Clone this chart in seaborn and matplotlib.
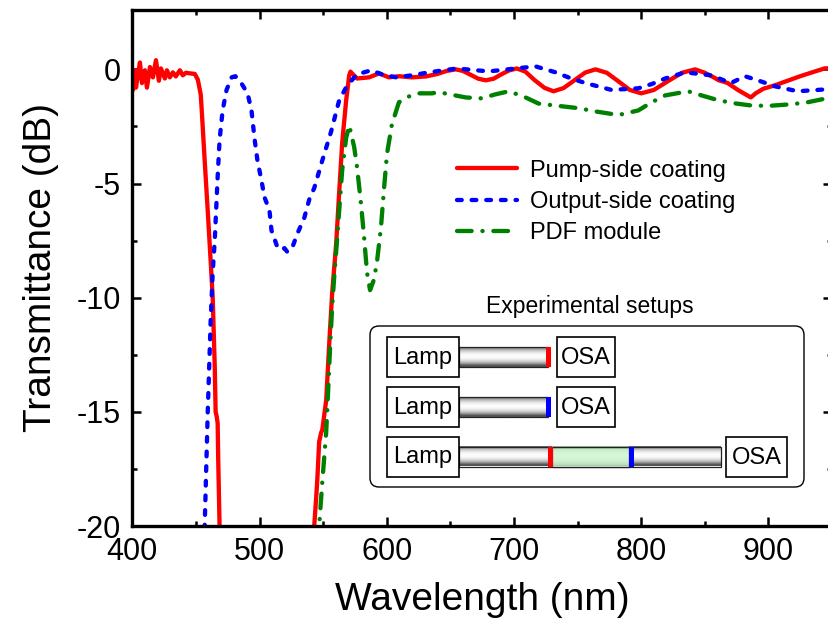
import numpy as np
import pandas as pd
import matplotlib
matplotlib.use("Agg")
import matplotlib.pyplot as plt
from matplotlib.patches import Rectangle, FancyBboxPatch
import seaborn as sns

# ---------------- data ----------------
pump_wl = [400.0, 400.5, 402.1, 402.9, 404.5, 406.0, 407.6, 409.9, 411.5, 413.9, 416.2, 418.6,
           420.9, 422.5, 425.6, 427.2, 429.5, 431.9, 434.2, 437.4, 439.7, 442.1, 446.0, 449.1,
           451.5, 453.8, 454.6, 456.9, 459.3, 461.6, 462.4, 463.2, 464.8, 465.5, 466.3, 467.1,
           467.5, 468.6, 469.5, 505.0, 542.0, 543.0, 544.6, 545.4, 546.9, 548.5, 549.3, 552.4,
           554.8, 557.1, 560.3, 562.6, 565.0, 568.1, 570.5, 571.5, 572.8, 576.7, 586.1, 593.9,
           601.8, 609.6, 619.8, 630.8, 640.0, 647.0, 654.3, 660.0, 666.0, 672.0, 677.8, 684.0,
           690.0, 696.0, 702.2, 709.0, 716.0, 724.0, 731.1, 739.0, 747.5, 756.0, 764.1, 773.0,
           782.0, 791.0, 800.1, 810.0, 821.0, 832.0, 842.4, 850.0, 857.0, 861.0, 864.3, 868.0,
           876.0, 886.2, 890.0, 896.0, 905.0, 915.0, 925.0, 935.0, 944.1, 948.0]
pump_db = [-0.7, -0.9, -0.05, -0.8, -0.2, 0.3, -0.6, -0.04, -0.8, 0.1, -0.35, 0.4,
           -0.5, 0.04, -0.4, -0.04, -0.35, -0.13, -0.31, -0.04, -0.26, -0.15, -0.18, -0.2,
           -0.45, -1.1, -1.8, -4.0, -6.2, -8.4, -9.2, -10.0, -13.0, -15.0, -15.2, -15.5,
           -17.0, -20.0, -23.0, -30.0, -23.0, -20.0, -18.7, -18.0, -16.3, -15.9, -15.8, -14.5,
           -12.0, -9.8, -7.6, -5.4, -3.2, -1.36, -0.26, -0.1, -0.18, -0.4, -0.35, -0.18,
           -0.35, -0.3, -0.35, -0.31, -0.2, -0.07, 0.0, -0.07, -0.24, -0.41, -0.48, -0.41,
           -0.22, -0.05, 0.04, -0.1, -0.46, -0.81, -0.96, -0.82, -0.48, -0.14, 0.0, -0.15,
           -0.52, -0.9, -1.05, -0.9, -0.52, -0.15, 0.0, -0.15, -0.35, -0.48, -0.53, -0.6,
           -0.9, -1.23, -1.05, -0.85, -0.7, -0.5, -0.3, -0.12, 0.04, 0.05]

output_wl = [456.0, 456.9, 459.3, 461.6, 463.2, 464.8, 467.1, 468.6, 471.0, 474.1, 478.1, 481.0,
             484.3, 490.6, 493.7, 496.0, 498.4, 501.5, 503.9, 507.8, 509.4, 514.1, 517.2, 519.6,
             521.9, 525.8, 529.7, 535.2, 539.1, 543.0, 549.3, 556.4, 562.6, 568.9, 576.7, 587.7,
             596.3, 607.3, 619.8, 633.2, 655.1, 680.2, 701.4, 717.0, 732.7, 745.0, 756.2, 776.6,
             797.7, 808.0, 818.9, 834.6, 854.9, 870.5, 881.5, 891.7, 905.0, 923.0, 944.1, 948.0]
output_db = [-24.0, -20.0, -15.0, -11.0, -8.9, -7.5, -4.7, -3.1, -1.8, -0.9, -0.35, -0.3,
             -0.48, -1.05, -1.8, -3.0, -4.0, -4.86, -5.6, -6.17, -7.05, -7.8, -7.9, -7.83,
             -8.0, -7.8, -7.2, -6.5, -5.7, -5.2, -4.0, -2.7, -1.36, -0.7, -0.22, -0.04,
             -0.22, -0.35, -0.26, -0.13, 0.04, -0.09, 0.04, 0.13, -0.13, -0.4, -0.6, -0.9,
             -0.83, -0.65, -0.4, -0.13, -0.26, -0.6, -0.3, -0.48, -0.74, -0.96, -0.88, -0.87]

pdf_wl = [546.0, 546.9, 549.3, 552.4, 554.0, 555.6, 557.1, 558.7, 561.1, 562.6, 565.0, 568.1,
          570.5, 574.4, 576.7, 579.8, 582.2, 584.5, 586.9, 590.0, 592.4, 595.5, 597.9, 600.2,
          604.1, 609.6, 619.0, 625.3, 635.5, 641.0, 650.0, 662.1, 674.7, 685.0, 695.9, 708.0,
          719.4, 735.0, 750.7, 765.0, 782.1, 797.7, 808.0, 818.9, 836.9, 848.0, 860.4, 875.0,
          886.2, 900.0, 917.5, 930.0, 945.7]
pdf_db = [-24.0, -20.0, -18.1, -15.9, -14.0, -12.0, -10.4, -9.1, -7.35, -6.2, -4.4, -3.0,
          -2.45, -3.4, -4.3, -5.9, -7.35, -8.9, -9.67, -9.2, -8.4, -6.9, -5.2, -3.7,
          -2.4, -1.44, -1.14, -1.05, -1.05, -1.0, -1.1, -1.23, -1.27, -1.1, -0.96, -1.2,
          -1.5, -1.6, -1.7, -1.85, -2.0, -1.8, -1.45, -1.14, -0.96, -1.15, -1.35, -1.5,
          -1.58, -1.6, -1.53, -1.45, -1.27]

series_labels = ["Pump-side coating", "Output-side coating", "PDF module"]
x_ticks = [400, 500, 600, 700, 800, 900]
y_ticks = [-20, -15, -10, -5, 0]

# ---------------- style ----------------
sns.set_style("ticks")
plt.rcParams["font.family"] = ["Liberation Sans", "DejaVu Sans"]
plt.rcParams["axes.unicode_minus"] = False
for key in ["text.color", "axes.labelcolor", "xtick.color", "ytick.color",
            "xtick.labelcolor", "ytick.labelcolor", "axes.edgecolor"]:
    plt.rcParams[key] = "black"

W, H = 829, 626
fig = plt.figure(figsize=(W / 100, H / 100), dpi=100)
fig.patch.set_facecolor("white")
ax = fig.add_axes([132.3 / W, 1 - 526 / H, (832 - 132.3) / W, (526 - 10) / H])
ax.set_facecolor("white")

df_pump = pd.DataFrame({"wl": pump_wl, "db": pump_db})
df_out = pd.DataFrame({"wl": output_wl, "db": output_db})
df_pdf = pd.DataFrame({"wl": pdf_wl, "db": pdf_db})

lw = 3.1
sns.lineplot(data=df_pump, x="wl", y="db", ax=ax, color="#ff0000", lw=lw,
             estimator=None, sort=False, label=series_labels[0])
sns.lineplot(data=df_out, x="wl", y="db", ax=ax, color="#0000ff", lw=lw,
             estimator=None, sort=False, label=series_labels[1],
             linestyle=(0, (1.1, 2.3)), dash_capstyle="round")
sns.lineplot(data=df_pdf, x="wl", y="db", ax=ax, color="#008000", lw=lw,
             estimator=None, sort=False, label=series_labels[2],
             linestyle=(0, (3.4, 2.5, 0.05, 2.5)), dash_capstyle="round")

ax.set_xlim(400, 948)
ax.set_ylim(-20, 2.6)
ax.set_xticks(x_ticks)
ax.set_yticks(y_ticks)
ax.set_xticks([450, 550, 650, 750, 850, 950], minor=True)
ax.set_yticks([-17.5, -12.5, -7.5, -2.5], minor=True)
ax.tick_params(which="both", direction="in", top=True, right=True, width=1.8,
               labelsize=22, color="black", labelcolor="black")
ax.tick_params(which="major", length=6.5)
ax.tick_params(which="minor", length=3.3)
ax.tick_params(axis="x", pad=8)
ax.tick_params(axis="y", pad=8)
for s in ax.spines.values():
    s.set_linewidth(2.4)
    s.set_color("black")
    s.set_visible(True)

ax.set_xlabel("Wavelength (nm)", fontsize=28, labelpad=11, color="black")
ax.set_ylabel("Transmittance (dB)", fontsize=28, labelpad=13, color="black")

leg = ax.legend(loc="center left", bbox_to_anchor=(0.464, 0.628), frameon=False,
                fontsize=17, handlelength=2.55, handletextpad=0.55, labelspacing=0.4,
                borderpad=0, borderaxespad=0)

# ---------------- inset: experimental setups ----------------
x0, x1, y0, y1 = 360, 815, 290, 495
iax = fig.add_axes([x0 / W, 1 - y1 / H, (x1 - x0) / W, (y1 - y0) / H])
iax.set_axis_off()

iax.add_patch(FancyBboxPatch((370, 326), 434, 161,
                             boxstyle="round,pad=0,rounding_size=9",
                             facecolor="white", edgecolor="black", lw=1.0, zorder=1))
iax.text(590, 307, "Experimental setups", ha="center", va="center", fontsize=16.5)

t = np.linspace(0, 1, 64)
prof = 0.33 + 0.66 * np.sin(np.pi * np.clip(t * 1.1, 0, 1)) ** 0.7
gray_img = np.repeat(prof[:, None], 2, axis=1)
green_img = np.zeros((64, 2, 3))
for k, (lo, hi) in enumerate([(0.62, 0.84), (0.80, 0.97), (0.62, 0.84)]):
    green_img[:, :, k] = (lo + (hi - lo) * np.sin(np.pi * t) ** 0.5)[:, None]


def fiber(xa, xb, yc, h=20, img=None):
    if img is None:
        iax.imshow(gray_img, cmap="gray", vmin=0, vmax=1, aspect="auto",
                   extent=(xa, xb, yc + h / 2, yc - h / 2), interpolation="bilinear", zorder=2)
    else:
        iax.imshow(img, aspect="auto", extent=(xa, xb, yc + h / 2, yc - h / 2),
                   interpolation="bilinear", zorder=2)
    iax.add_patch(Rectangle((xa, yc - h / 2), xb - xa, h, fill=False,
                            edgecolor="#222222", lw=0.9, zorder=3))


def box(xa, xb, yc, label, h=40):
    iax.add_patch(Rectangle((xa, yc - h / 2), xb - xa, h, facecolor="white",
                            edgecolor="black", lw=1.2, zorder=4))
    iax.text((xa + xb) / 2, yc + 1, label, ha="center", va="center", fontsize=17, zorder=5)


def mark(xa, xb, yc, color, h=20):
    iax.add_patch(Rectangle((xa, yc - h / 2), xb - xa, h, facecolor=color,
                            edgecolor="none", zorder=4))


rows = [357, 407, 456.5]
# row 1
fiber(459, 548, rows[0])
mark(546, 551, rows[0], "#ff0000")
box(387, 459, rows[0], "Lamp")
box(557, 615, rows[0], "OSA")
# row 2
fiber(459, 548, rows[1])
mark(546, 551, rows[1], "#0000ff")
box(387, 459, rows[1], "Lamp")
box(557, 615, rows[1], "OSA")
# row 3
fiber(459, 721, rows[2])
fiber(552, 629, rows[2], img=green_img)
mark(548, 553, rows[2], "#ff0000")
mark(629, 634, rows[2], "#0000ff")
box(387, 459, rows[2], "Lamp")
box(726, 787, rows[2], "OSA")

iax.set_xlim(x0, x1)
iax.set_ylim(y1, y0)

fig.savefig("out.png", dpi=100, facecolor="white")
